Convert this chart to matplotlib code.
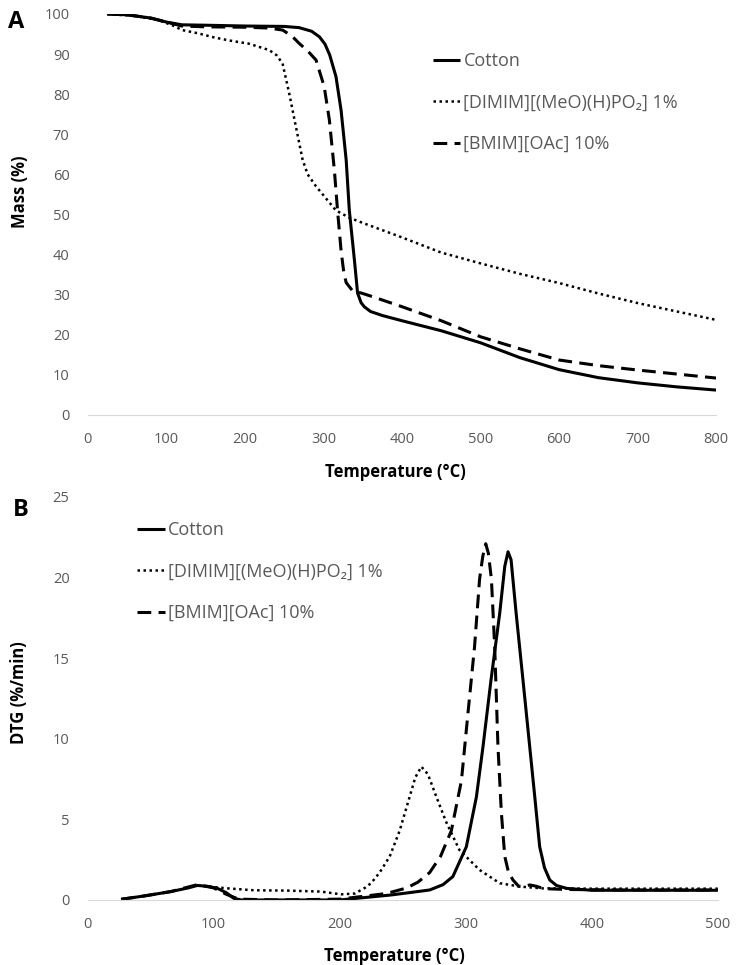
import matplotlib
matplotlib.use("Agg")
import matplotlib.pyplot as plt

plt.rcParams['font.family'] = ['Open Sans', 'DejaVu Sans']

# ---------------- Panel A: TGA (mass %) ----------------
cotton_T = [25, 50, 80, 100, 120, 150, 200, 250, 269, 285, 295, 302, 308, 316, 322.5, 329, 333, 339.5, 343.5, 348, 352, 360, 375, 400, 450, 500, 550, 600, 650, 700, 750, 800]
cotton_M = [100, 99.8, 99, 98, 97.3, 97.2, 97, 96.9, 96.6, 95.7, 94.3, 92.5, 89.8, 84.4, 76, 63.6, 51, 38.6, 30.4, 28, 27, 25.8, 24.8, 23.5, 21, 18, 14.3, 11.3, 9.3, 8, 7, 6.2]

bmim_T = [25, 50, 80, 100, 120, 150, 200, 230, 248, 260, 269, 280, 290.7, 301, 307.6, 314, 318, 322.5, 326, 329, 333, 337, 350, 362.5, 400, 450, 500, 550, 600, 650, 700, 750, 800]
bmim_M = [100, 99.8, 99, 98, 97, 96.8, 96.7, 96.5, 96, 94.5, 92.7, 90.8, 88.5, 81.9, 73.6, 61, 51, 41, 35.5, 33, 32, 31, 30.3, 29.5, 27, 23.5, 19.5, 16.5, 13.7, 12.3, 11.2, 10.2, 9.2]

dimim_T = [25, 60, 90, 110, 120, 140, 160, 180, 205, 231, 240, 248, 256.7, 265, 273.6, 280, 290.7, 300, 316, 333, 350, 397, 450, 500, 550, 600, 650, 700, 750, 800]
dimim_M = [100, 99.5, 98.5, 97, 96, 95.2, 94.2, 93.4, 92.6, 91, 89.8, 87.7, 80, 71.9, 63.6, 60, 57, 54.8, 51, 49.2, 47.9, 44.5, 40.5, 37.8, 35.2, 32.9, 30.3, 27.9, 25.8, 23.7]

# ---------------- Panel B: DTG (%/min) ----------------
cotton_Tb = [26.5, 45, 66, 80, 87, 95, 103, 110, 116, 122, 150, 200, 239.7, 255, 271.4, 282, 289.8, 300.5, 308.5, 313.7, 320, 327, 331, 333.6, 336, 340, 345.5, 350.8, 354.8, 358.7, 362.5, 366.7, 372, 380, 400, 450, 500]
cotton_D = [0.04, 0.25, 0.52, 0.75, 0.9, 0.85, 0.72, 0.45, 0.1, 0, 0, 0, 0.3, 0.45, 0.62, 0.95, 1.45, 3.3, 6.4, 9.5, 13.6, 17.8, 20.7, 21.6, 21.1, 17.8, 13.6, 9.5, 6.4, 3.3, 2.0, 1.24, 0.9, 0.72, 0.6, 0.6, 0.6]

bmim_Tb = [26.5, 45, 66, 87, 100, 110, 120, 150, 200, 237, 253, 262, 271.4, 280, 288.6, 296.6, 301.8, 307, 311, 313.5, 315.9, 318, 320.4, 323, 325.6, 328.3, 331, 334, 337.5, 342, 346, 351, 356, 362, 380, 420, 500]
bmim_D = [0.04, 0.25, 0.52, 0.95, 0.75, 0.35, 0.05, 0, 0.05, 0.4, 0.74, 1.1, 1.7, 2.7, 4.3, 7.4, 11.6, 15.7, 19.9, 21.3, 22.1, 21.5, 19.9, 15.7, 9.5, 5.4, 2.7, 1.7, 1.24, 0.85, 0.85, 0.93, 0.85, 0.7, 0.65, 0.62, 0.62]

dimim_Tb = [87, 100, 111, 132, 159, 185, 201, 212, 220, 225, 231.7, 239.7, 247.6, 255.5, 260, 264.8, 270, 276.7, 284.7, 295, 311, 327, 343, 360, 400, 450, 500]
dimim_D = [0.9, 0.8, 0.72, 0.6, 0.58, 0.52, 0.35, 0.4, 0.75, 1.05, 1.7, 2.7, 4.3, 6.4, 7.6, 8.27, 7.8, 6.4, 4.8, 3.1, 1.86, 1.04, 0.83, 0.72, 0.7, 0.7, 0.7]

labels = ["Cotton", "[DIMIM][(MeO)(H)PO\u2082] 1%", "[BMIM][OAc] 10%"]
xticksA = [0, 100, 200, 300, 400, 500, 600, 700, 800]
yticksA = [0, 10, 20, 30, 40, 50, 60, 70, 80, 90, 100]
xticksB = [0, 100, 200, 300, 400, 500]
yticksB = [0, 5, 10, 15, 20, 25]

GRAY = '#595959'

fig = plt.figure(figsize=(7.43, 9.65), dpi=100)
axA = fig.add_axes([0.118, 0.570, 0.846, 0.4155])
axB = fig.add_axes([0.118, 0.0674, 0.848, 0.4176])


def style(ax, xt, yt, xl, yl, ylabel, ylab_y):
    ax.set_xlim(*xl)
    ax.set_ylim(*yl)
    ax.set_xticks(xt)
    ax.set_yticks(yt)
    for s in ['top', 'right', 'left']:
        ax.spines[s].set_visible(False)
    ax.spines['bottom'].set_color('#d9d9d9')
    ax.spines['bottom'].set_linewidth(0.8)
    ax.tick_params(length=0, labelsize=10.5, labelcolor=GRAY)
    ax.tick_params(axis='x', pad=12)
    ax.tick_params(axis='y', pad=13)
    ax.set_xlabel("Temperature (°C)", fontsize=12, fontweight='bold', color='black')
    ax.set_ylabel(ylabel, fontsize=12, fontweight='bold', color='black')
    ax.yaxis.set_label_coords(-0.094, ylab_y)


def draw(ax, T1, Y1, T2, Y2, T3, Y3):
    ax.plot(T1, Y1, color='black', lw=2.2, solid_capstyle='butt', solid_joinstyle='round', label=labels[0])
    ax.plot(T2, Y2, color='black', lw=1.8, linestyle=(0, (1, 1.4)), label=labels[1])
    ax.plot(T3, Y3, color='black', lw=2.2, linestyle=(0, (4.5, 2.4)), label=labels[2])


draw(axA, cotton_T, cotton_M, dimim_T, dimim_M, bmim_T, bmim_M)
style(axA, xticksA, yticksA, (0, 800), (0, 100), "Mass (%)", 0.556)
axA.xaxis.set_label_coords(0.49, -0.12)
legA = axA.legend(loc='upper left', bbox_to_anchor=(0.549, 0.905), frameon=False,
                  fontsize=13, handlelength=1.5, handletextpad=0.2, labelspacing=1.3,
                  borderpad=0, borderaxespad=0)
for t in legA.get_texts():
    t.set_color(GRAY)

draw(axB, cotton_Tb, cotton_D, dimim_Tb, dimim_D, bmim_Tb, bmim_D)
style(axB, xticksB, yticksB, (0, 500), (0, 25), "DTG (%/min)", 0.514)
axB.xaxis.set_label_coords(0.487, -0.117)
legB = axB.legend(loc='upper left', bbox_to_anchor=(0.079, 0.94), frameon=False,
                  fontsize=13, handlelength=1.5, handletextpad=0.2, labelspacing=1.3,
                  borderpad=0, borderaxespad=0)
for t in legB.get_texts():
    t.set_color(GRAY)

fig.text(0.011, 0.977, "A", fontsize=17, fontweight='bold', ha='left', va='center')
fig.text(0.018, 0.472, "B", fontsize=17, fontweight='bold', ha='left', va='center')

fig.savefig("out.png", dpi=100)
